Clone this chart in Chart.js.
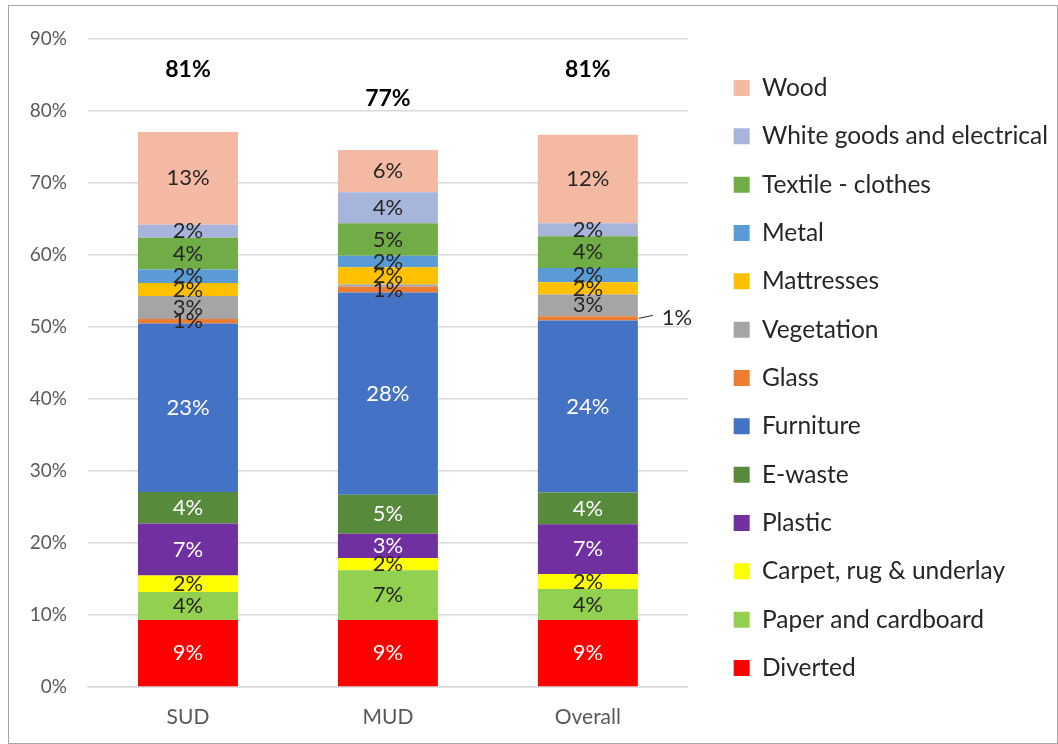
<!DOCTYPE html>
<html>
<head>
<meta charset="utf-8">
<script src="https://cdn.jsdelivr.net/npm/chart.js@4/dist/chart.umd.min.js"></script>
<style>
  html, body { margin: 0; padding: 0; background: #fff; }
  #wrap { position: relative; width: 1058px; height: 744px; }
  #frame { position: absolute; left: 8px; top: 5px; right: 0; bottom: 0; border: 1px solid #a6a6a6; pointer-events: none; }
</style>
</head>
<body>
<div id="wrap">
  <canvas id="chart" width="1058" height="744"></canvas>
  <div id="frame"></div>
</div>
<script>
// ---- data (percent), bottom of the stack first ----
const categories = ['SUD', 'MUD', 'Overall'];
const yTicks = [0, 10, 20, 30, 40, 50, 60, 70, 80, 90];

const diverted    = [9.3, 9.3, 9.3];
const paper       = [3.9, 6.9, 4.3];
const carpet      = [2.3, 1.7, 2.1];
const plastic     = [7.2, 3.4, 6.9];
const eWaste      = [4.4, 5.4, 4.4];
const furniture   = [23.4, 28.1, 23.9];
const glass       = [0.6, 0.8, 0.6];
const vegetation  = [3.2, 0.3, 3.0];
const mattresses  = [1.8, 2.4, 1.7];
const metal       = [1.9, 1.6, 2.0];
const textile     = [4.4, 4.5, 4.4];
const whiteGoods  = [1.8, 4.3, 1.8];
const wood        = [12.9, 5.9, 12.3];

const totals = [81, 77, 81];

const FONT = 'Lato, "Open Sans", sans-serif';

// ---- datasets ----
const series = [
  { label: 'Diverted', data: diverted, color: '#FF0000', light: true },
  { label: 'Paper and cardboard', data: paper, color: '#92D050' },
  { label: 'Carpet, rug & underlay', data: carpet, color: '#FFFF00' },
  { label: 'Plastic', data: plastic, color: '#7030A0', light: true },
  { label: 'E-waste', data: eWaste, color: '#578A3A', light: true },
  { label: 'Furniture', data: furniture, color: '#4472C4', light: true },
  { label: 'Glass', data: glass, color: '#ED7D31' },
  { label: 'Vegetation', data: vegetation, color: '#A5A5A5' },
  { label: 'Mattresses', data: mattresses, color: '#FFC000' },
  { label: 'Metal', data: metal, color: '#5B9BD5' },
  { label: 'Textile - clothes', data: textile, color: '#70AD47' },
  { label: 'White goods and electrical', data: whiteGoods, color: '#A7B5DC' },
  { label: 'Wood', data: wood, color: '#F4B9A3' }
];

const datasets = series.map(s => ({
  label: s.label,
  data: s.data,
  backgroundColor: s.color,
  borderWidth: 0,
  light: !!s.light,
  categoryPercentage: 1.0,
  barPercentage: 0.5
}));

// ---- value labels inside the segments + totals on top ----
const segmentLabels = {
  id: 'segmentLabels',
  afterDatasetsDraw(chart) {
    const ctx = chart.ctx;
    ctx.save();
    ctx.textAlign = 'center';
    ctx.textBaseline = 'middle';
    ctx.font = '22px ' + FONT;
    chart.data.datasets.forEach((ds, di) => {
      const meta = chart.getDatasetMeta(di);
      meta.data.forEach((bar, i) => {
        const r = Math.round(ds.data[i]);
        if (r === 0) return;
        const yc = (bar.y + bar.base) / 2;
        // the tiny glass slice on Overall gets a callout
        if (ds.label === 'Glass' && i === 2) {
          const xe = bar.x + bar.width / 2;
          ctx.strokeStyle = '#262626';
          ctx.lineWidth = 1;
          ctx.beginPath();
          ctx.moveTo(xe + 1, yc);
          ctx.lineTo(xe + 15, yc - 3);
          ctx.stroke();
          ctx.fillStyle = '#262626';
          ctx.textAlign = 'left';
          ctx.fillText(r + '%', xe + 24, yc);
          ctx.textAlign = 'center';
          return;
        }
        ctx.fillStyle = ds.light ? '#ffffff' : '#262626';
        ctx.fillText(r + '%', bar.x, yc);
      });
    });
    const yScale = chart.scales.y;
    ctx.font = 'bold 23px ' + FONT;
    ctx.fillStyle = '#000000';
    totals.forEach((t, i) => {
      const x = chart.getDatasetMeta(0).data[i].x;
      ctx.fillText(t + '%', x, yScale.getPixelForValue(t + 4.7));
    });
    ctx.restore();
  }
};

new Chart(document.getElementById('chart'), {
  type: 'bar',
  data: { labels: categories, datasets: datasets },
  options: {
    responsive: false,
    animation: false,
    layout: { padding: { top: 12, bottom: 0, left: 0, right: 0 } },
    plugins: {
      tooltip: { enabled: false },
      // empty spacer above the plot only (keeps the legend full height)
      title: {
        display: true,
        text: '',
        fullSize: false,
        padding: 0,
        font: { size: 10, lineHeight: 2.7 }
      },
      legend: {
        position: 'right',
        reverse: true,
        maxWidth: 420,
        labels: {
          boxWidth: 16,
          boxHeight: 16,
          padding: 23.83,
          color: '#262626',
          font: { size: 24.5, family: FONT }
        }
      }
    },
    scales: {
      x: {
        stacked: true,
        grid: { display: false },
        border: { color: '#d9d9d9', width: 1.5 },
        ticks: { color: '#595959', font: { size: 21, family: FONT }, padding: 10 },
        afterFit: s => { s.height = 57; }
      },
      y: {
        stacked: true,
        min: 0,
        max: 90,
        afterBuildTicks: s => { s.ticks = yTicks.map(v => ({ value: v })); },
        afterFit: s => { s.width = 88; },
        grid: { color: '#d9d9d9', lineWidth: 1.5, drawTicks: false },
        border: { display: false },
        ticks: { color: '#595959', font: { size: 19, family: FONT }, padding: 21, callback: v => v + '%' }
      },
      gap: {
        position: 'right',
        display: true,
        grid: { display: false },
        border: { display: false },
        ticks: { display: false },
        afterFit: s => { s.width = 22; }
      }
    }
  },
  plugins: [segmentLabels]
});
</script>
</body>
</html>
